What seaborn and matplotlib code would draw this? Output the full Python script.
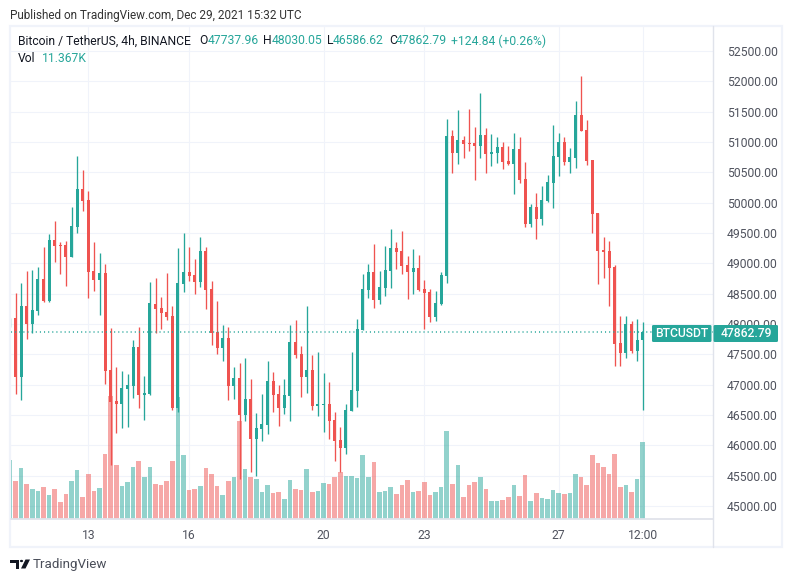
import matplotlib
matplotlib.use("Agg")
import matplotlib.pyplot as plt
from matplotlib.patches import Rectangle, Polygon
from matplotlib.lines import Line2D
import numpy as np
import pandas as pd
import seaborn as sns

opens = [47956,48093,47132,48296,48000,48216,48743,48381,49385,49309,49303,49105,49600,50225,50044,48875,48727,48842,47242,46732,46682,46929,46979,47621,46830,46847,48331,48265,48200,48131,46616,48661,48858,48809,48694,49204,48578,47868,47604,47769,46979,47111,46502,46765,46107,46271,46337,47062,46848,46617,46815,47704,47507,47128,47243,46650,46667,46683,46420,46090,45958,46568,46897,47902,48561,48857,48396,48594,48874,49252,49203,48972,48857,48923,48577,48528,48116,48330,48792,51098,50818,51032,50983,50983,50933,51114,50802,50818,50917,50686,50637,50884,50390,49649,49929,49731,50027,50324,50752,51000,50670,50736,51444,51197,50703,49830,49220,49204,48940,47687,47522,48000,47555,47738]
highs = [48093,48507,48672,48875,48891,48941,49270,49484,49698,49352,49369,49929,50769,50538,50192,49352,49171,48990,47934,47292,47226,47176,47736,47950,47143,48694,48760,48447,48842,48298,49254,49501,49270,49072,49435,49270,48710,48381,47983,47950,47292,47358,47441,47095,46535,46848,47391,47210,46996,47095,47984,48067,47638,48297,47490,47540,47194,47045,46551,46304,46683,47540,48083,48824,48989,49318,48874,49285,49565,49351,49532,49121,49236,49137,48725,48577,48544,48857,51378,51197,51526,51098,51543,51246,51806,51230,51131,51081,51000,50933,51147,51081,50670,49978,50159,50274,50456,51279,51147,51081,50900,51674,52086,51361,50703,49830,49434,49369,48973,48131,48131,48049,48082,48030]
lows = [47956,46847,46748,47753,47846,48150,48370,48370,49023,48825,48628,49105,49501,49863,48430,48546,48150,47012,45677,46204,46287,46303,46781,46616,46419,46830,47846,47917,48068,46583,46550,48529,48710,48496,48611,48249,47654,47506,47390,46748,46765,45448,46403,45563,45497,46074,46189,46551,46321,46518,46403,47441,46798,46864,46584,46485,46222,46107,45744,45563,45860,46568,46634,47902,48429,48264,48330,48462,48594,48907,48824,48412,48495,48544,47918,48034,48050,48314,48677,50489,50637,50736,50851,50373,50736,50489,50604,50653,50554,50620,50143,50324,49599,49599,49402,49632,50011,49912,50439,50620,50489,50571,51180,50620,49500,48660,48759,48298,47308,47308,47440,47522,47390,46587]
closes = [48093,47132,48296,48000,48232,48743,48381,49385,49287,49287,49105,49616,50225,50028,48858,48727,48842,47226,46715,46682,46946,46995,47621,46830,46863,48348,48249,48183,48117,46616,48677,48858,48792,48694,49204,48562,47852,47604,47769,46979,47111,46502,46765,46107,46288,46354,47062,46831,46617,46831,47704,47490,47128,47243,46650,46683,46683,46403,46074,45958,46584,46914,47918,48577,48857,48396,48610,48890,49252,49187,48956,48857,48923,48561,48511,48116,48347,48808,51098,50818,51032,50966,50966,50933,51114,50802,50834,50917,50670,50637,50884,50373,49649,49929,49731,50044,50340,50769,51000,50670,50752,51444,51180,50686,49813,49204,49187,48924,47670,47522,48000,47555,47736,47863]
volumes_k = [8.71,5.61,7.53,5.17,4.43,4.13,4.72,3.54,4.43,2.51,3.69,5.61,7.23,3.25,6.64,4.13,4.58,9.59,18.15,7.97,4.87,5.46,7.68,8.56,6.20,7.68,5.17,5.02,5.61,8.56,18.01,9.45,4.28,4.43,4.87,7.53,6.64,4.87,3.54,5.61,6.20,14.46,7.38,6.20,5.90,3.99,5.02,3.84,3.99,2.95,5.76,4.43,4.28,7.38,3.99,4.13,5.31,5.17,6.20,6.94,6.35,6.35,6.05,9.45,6.20,8.41,3.99,4.13,4.72,3.69,5.02,5.76,3.99,4.13,5.46,3.54,3.99,4.72,12.99,5.17,7.97,3.25,5.02,5.46,6.20,4.43,2.66,2.66,2.80,3.25,5.02,3.39,6.49,2.66,3.84,3.10,2.95,4.28,3.84,3.69,3.84,6.64,6.20,5.02,9.45,8.27,7.68,6.64,9.59,4.72,5.02,3.99,5.90,11.37]
price_ticks = [45000,45500,46000,46500,47000,47500,48000,48500,49000,49500,50000,50500,51000,51500,52000,52500]
date_labels = ["13","16","20","23","27","12:00"]
date_candles = [13,31,55,73,97,112]
last_price = 47862.79
header = "Published on TradingView.com, Dec 29, 2021 15:32 UTC"
title = "Bitcoin / TetherUS, 4h, BINANCE"

W, H = 793, 582
TEAL, RED = "#26A69A", "#EF5350"
GRID = "#F0F3FA"
FRAME = "#E0E3EB"
TXT = "#131722"
FONT = "Roboto"

sns.set_theme(style="white")
plt.rcParams["font.family"] = [FONT, "DejaVu Sans"]

fig = plt.figure(figsize=(W / 100, H / 100), dpi=100, facecolor="white")

def fx(x): return x / W
def fy(y): return 1 - y / H

L, R, T, B = 10.5, 713.0, 27.0, 519.0
pos = [fx(L), fy(B), (R - L) / W, (B - T) / H]

def px_to_price(y): return 45000 + (506 - y) * 16.48
def px_to_idx(x): return (x - 15.5) / 5.6

xlim = (px_to_idx(L), px_to_idx(R))
ylim = (px_to_price(B), px_to_price(T))

df = pd.DataFrame({"i": np.arange(-1, len(opens) - 1), "o": opens, "h": highs,
                   "l": lows, "c": closes, "vol": volumes_k})
df["dir"] = np.where(df.c >= df.o, "up", "down")
pal = {"up": TEAL, "down": RED}

# grid layer
ax_g = fig.add_axes(pos, zorder=0)
ax_g.set_xlim(xlim); ax_g.set_ylim(ylim)
ax_g.set_yticks(price_ticks); ax_g.set_xticks(date_candles)
ax_g.grid(True, color=GRID, lw=0.75)
ax_g.tick_params(length=0, labelleft=False, labelbottom=False)
for s in ax_g.spines.values():
    s.set_visible(False)

# volume layer
ax_v = fig.add_axes(pos, zorder=1)
ax_v.patch.set_alpha(0)
sns.barplot(data=df, x="i", y="vol", hue="dir", palette=pal, native_scale=True, dodge=False,
            width=0.8, alpha=0.5, saturation=1, legend=False, errorbar=None, linewidth=0, ax=ax_v)
ax_v.set_xlim(xlim)
ax_v.set_ylim(0, (B - T) / 6.775)
ax_v.axis("off")

# candles + price axis
ax = fig.add_axes(pos, zorder=2)
ax.patch.set_alpha(0)
ax.set_xlim(xlim); ax.set_ylim(ylim)
colors = df["dir"].map(pal)
ax.vlines(df.i, df.l, df.h, colors=colors, lw=0.95)
ax.bar(df.i, (df.c - df.o).abs().clip(lower=8), bottom=df[["o", "c"]].min(axis=1),
       width=0.56, color=colors, linewidth=0)
ax.axhline(last_price, color=TEAL, lw=1.1, ls=(0, (0.7, 2.0)))
ax.yaxis.tick_right()
ax.set_yticks(price_ticks)
ax.set_yticklabels([f"{p:.2f}" for p in price_ticks], fontsize=8.7, color="#50535E")
ax.set_xticks(date_candles)
ax.set_xticklabels(date_labels, fontsize=8.7, color="#50535E")
ax.tick_params(axis="y", length=0, pad=10)
ax.tick_params(axis="x", length=0, pad=7.5)
for s in ax.spines.values():
    s.set_visible(False)

# frame
fig.add_artist(Rectangle((fx(10), fy(546.5)), 772 / W, 520.5 / H, transform=fig.transFigure,
                         fill=False, ec=GRID, lw=1.6, zorder=5))
fig.add_artist(Line2D([fx(L), fx(R)], [fy(B), fy(B)], color=FRAME, lw=1.3, zorder=5))
fig.add_artist(Line2D([fx(R), fx(R)], [fy(26), fy(546.5)], color=FRAME, lw=1.0, zorder=5))

# price labels
def box(x0, x1, y0, y1):
    fig.add_artist(matplotlib.patches.FancyBboxPatch(
        (fx(x0), fy(y1)), (x1 - x0) / W, (y1 - y0) / H, transform=fig.transFigure,
        boxstyle="round,pad=0,rounding_size=0.002", fc=TEAL, ec="none", zorder=6))

box(652, 711.5, 325, 342)
box(713.5, 778, 325, 342)
fig.text(fx(681.5), fy(333.5), "BTCUSDT", color="white", fontsize=8.7, fontweight="medium", ha="center", va="center", zorder=7)
fig.text(fx(746), fy(333.5), f"{last_price:.2f}", color="white", fontsize=8.7, fontweight="medium", ha="center", va="center", zorder=7)

def label(x, y, s, color=TXT, size=8.7):
    fig.text(fx(x), fy(y), s, color=color, fontsize=size, ha="left", va="center", zorder=8)

label(10, 15, header, color="#333333", size=8.5)
label(18, 41, title)
label(199, 41, "O"); label(208, 41, "47737.96", TEAL)
label(263, 41, "H"); label(272, 41, "48030.05", TEAL)
label(327, 41, "L"); label(333, 41, "46586.62", TEAL)
label(389, 41, "C"); label(396, 41, "47862.79", TEAL)
label(451, 41, "+124.84 (+0.26%)", TEAL)
label(18, 59, "Vol"); label(42, 59, "11.367K", TEAL)

# wordmark
logo = "#131722"
fig.add_artist(Polygon([(fx(10), fy(559.5)), (fx(19), fy(559.5)), (fx(19), fy(568.5)), (fx(15.5), fy(568.5)),
                        (fx(15.5), fy(563)), (fx(10), fy(563))], transform=fig.transFigure, fc=logo, ec="none", zorder=8))
fig.add_artist(matplotlib.patches.Circle((fx(21.5), fy(561)), 1.6 / W, transform=fig.transFigure, fc=logo, ec="none", zorder=8))
fig.add_artist(Polygon([(fx(25.5), fy(559.5)), (fx(30), fy(559.5)), (fx(25.5), fy(568.5)), (fx(21), fy(568.5))],
                       transform=fig.transFigure, fc=logo, ec="none", zorder=8))
label(33, 564.5, "TradingView", color="#4A4E59", size=9.6)

fig.savefig("out.png", dpi=100)
